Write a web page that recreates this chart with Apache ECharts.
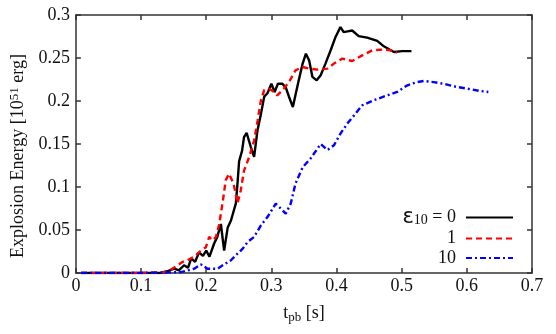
<!DOCTYPE html>
<html>
<head>
<meta charset="utf-8">
<script src="https://cdn.jsdelivr.net/npm/echarts/dist/echarts.min.js"></script>
<style>
  html, body { margin: 0; padding: 0; background: #fff; }
  #chart { width: 556px; height: 334px; }
</style>
</head>
<body>
<div id="chart"></div>
<script>
// eps10 = 0
var t0 = [0.008, 0.05, 0.10, 0.13, 0.14, 0.151, 0.158, 0.166, 0.172, 0.177, 0.183, 0.189, 0.195, 0.2, 0.205, 0.212, 0.217, 0.2225, 0.2275, 0.233, 0.238, 0.2455, 0.248, 0.2505, 0.255, 0.258, 0.262, 0.2685, 0.2735, 0.2787, 0.284, 0.289, 0.294, 0.300, 0.305, 0.310, 0.317, 0.322, 0.327, 0.333, 0.337, 0.342, 0.348, 0.353, 0.358, 0.363, 0.3695, 0.3757, 0.383, 0.391, 0.3985, 0.406, 0.411, 0.417, 0.424, 0.434, 0.447, 0.4625, 0.4726, 0.488, 0.5008, 0.515]
var e0 = [0, 0, 0, 0, 0.002, 0.005, 0.003, 0.009, 0.006, 0.017, 0.013, 0.024, 0.02, 0.026, 0.019, 0.034, 0.042, 0.057, 0.026, 0.053, 0.061, 0.081, 0.104, 0.130, 0.142, 0.158, 0.163, 0.1465, 0.135, 0.166, 0.185, 0.205, 0.209, 0.220, 0.2105, 0.220, 0.220, 0.216, 0.205, 0.193, 0.207, 0.224, 0.2435, 0.255, 0.247, 0.228, 0.224, 0.230, 0.2435, 0.259, 0.2745, 0.286, 0.280, 0.281, 0.282, 0.2755, 0.2737, 0.270, 0.2636, 0.257, 0.258, 0.258]
// eps10 = 1
var t1 = [0.008, 0.10, 0.14, 0.146, 0.156, 0.164, 0.1715, 0.1816, 0.192, 0.1995, 0.2046, 0.21, 0.215, 0.220, 0.225, 0.230, 0.235, 0.242, 0.248, 0.253, 0.258, 0.266, 0.2735, 0.279, 0.284, 0.289, 0.2965, 0.304, 0.309, 0.317, 0.327, 0.337, 0.348, 0.358, 0.3706, 0.386, 0.396, 0.409, 0.424, 0.4395, 0.455, 0.470, 0.483, 0.493]
var e1 = [0, 0, 0.001, 0.004, 0.009, 0.013, 0.015, 0.019, 0.026, 0.030, 0.042, 0.038, 0.042, 0.057, 0.081, 0.108, 0.1155, 0.104, 0.081, 0.096, 0.119, 0.135, 0.154, 0.1776, 0.201, 0.2125, 0.2144, 0.2105, 0.2066, 0.2125, 0.222, 0.2357, 0.2395, 0.2377, 0.2365, 0.2377, 0.2435, 0.2493, 0.2465, 0.253, 0.259, 0.2598, 0.259, 0.2563]
// eps10 = 10
var t10 = [0.008, 0.10, 0.161, 0.1816, 0.192, 0.202, 0.2175, 0.2275, 0.238, 0.248, 0.2557, 0.2635, 0.2735, 0.284, 0.294, 0.3067, 0.317, 0.322, 0.3297, 0.337, 0.348, 0.360, 0.3757, 0.386, 0.396, 0.406, 0.4165, 0.4266, 0.4395, 0.457, 0.4778, 0.493, 0.508, 0.5235, 0.534, 0.549, 0.5645, 0.580, 0.600, 0.6207, 0.633]
var e10 = [0, 0, 0.001, 0.005, 0.010, 0.005, 0.005, 0.010, 0.0148, 0.0225, 0.028, 0.036, 0.042, 0.0555, 0.065, 0.0807, 0.073, 0.069, 0.0807, 0.104, 0.123, 0.133, 0.150, 0.143, 0.1485, 0.162, 0.1737, 0.183, 0.195, 0.2008, 0.2066, 0.2105, 0.218, 0.222, 0.2233, 0.222, 0.220, 0.217, 0.2144, 0.2116, 0.2105]

var seriesNames = ['0', '1', '10']
var seriesColors = ['#000000', '#ff0000', '#0000ff']

function pairs(t, e) {
  return t.map(function(v, i) { return [v, e[i]] })
}

var font = 'Liberation Serif'
var axisLineStyle = { color: '#333', width: 1.5 }

function makeX(pos, show) {
  return {
    type: 'value', position: pos, min: 0, max: 0.7, interval: 0.1,
    axisLine: { show: true, onZero: false, lineStyle: axisLineStyle },
    axisTick: { show: true, inside: true, length: 5, lineStyle: axisLineStyle },
    axisLabel: { show: show, margin: 4, color: '#111', fontFamily: font, fontSize: 18 },
    splitLine: { show: false },
    name: show ? 't{sub|pb} [s]' : '',
    nameLocation: 'middle', nameGap: 30,
    nameTextStyle: {
      color: '#111', fontFamily: font, fontSize: 18,
      rich: { sub: { fontFamily: font, fontSize: 13, padding: [8, 0, 0, 0], color: '#111' } }
    }
  }
}

function makeY(pos, show) {
  return {
    type: 'value', position: pos, min: 0, max: 0.3, interval: 0.05,
    axisLine: { show: true, onZero: false, lineStyle: axisLineStyle },
    axisTick: { show: true, inside: true, length: 5, lineStyle: axisLineStyle },
    axisLabel: { show: show, margin: 6, color: '#111', fontFamily: font, fontSize: 18 },
    splitLine: { show: false },
    name: show ? 'Explosion Energy [10{sup|51} erg]' : '',
    nameLocation: 'middle', nameGap: 44,
    nameTextStyle: {
      color: '#111', fontFamily: font, fontSize: 18, padding: [0, 24, 0, 0],
      rich: { sup: { fontFamily: font, fontSize: 13, padding: [0, 0, 8, 0], color: '#111' } }
    }
  }
}

var dashes = ['solid', [6, 4], [6, 3, 2, 3]]
var data = [pairs(t0, e0), pairs(t1, e1), pairs(t10, e10)]

var chart = echarts.init(document.getElementById('chart'), null, { renderer: 'canvas' })
chart.setOption({
  animation: false,
  backgroundColor: '#fff',
  grid: { left: 75, right: 24, top: 15, bottom: 61, containLabel: false },
  xAxis: [makeX('bottom', true), makeX('top', false)],
  yAxis: [makeY('left', true), makeY('right', false)],
  legend: {
    orient: 'vertical', right: 37, top: 202, align: 'right',
    itemWidth: 47, itemHeight: 14, itemGap: 1.5,
    data: seriesNames,
    itemStyle: { opacity: 0 },
    formatter: function(name) {
      return name === '0' ? '{e|ε}{s|10} = 0' : name
    },
    textStyle: {
      color: '#111', fontFamily: font, fontSize: 18, lineHeight: 16, height: 16, padding: [0, 5, 0, 0],
      rich: {
        e: { fontFamily: 'DejaVu Sans', fontSize: 21, lineHeight: 16, color: '#111' },
        s: { fontFamily: font, fontSize: 14, lineHeight: 16, padding: [6, 0, 0, 0], color: '#111' }
      }
    }
  },
  series: seriesNames.map(function(n, i) {
    return {
      name: n, type: 'line', data: data[i], showSymbol: false, symbol: 'none',
      color: seriesColors[i],
      lineStyle: { color: seriesColors[i], width: 2.4, type: dashes[i] }
    }
  })
})
</script>
</body>
</html>
